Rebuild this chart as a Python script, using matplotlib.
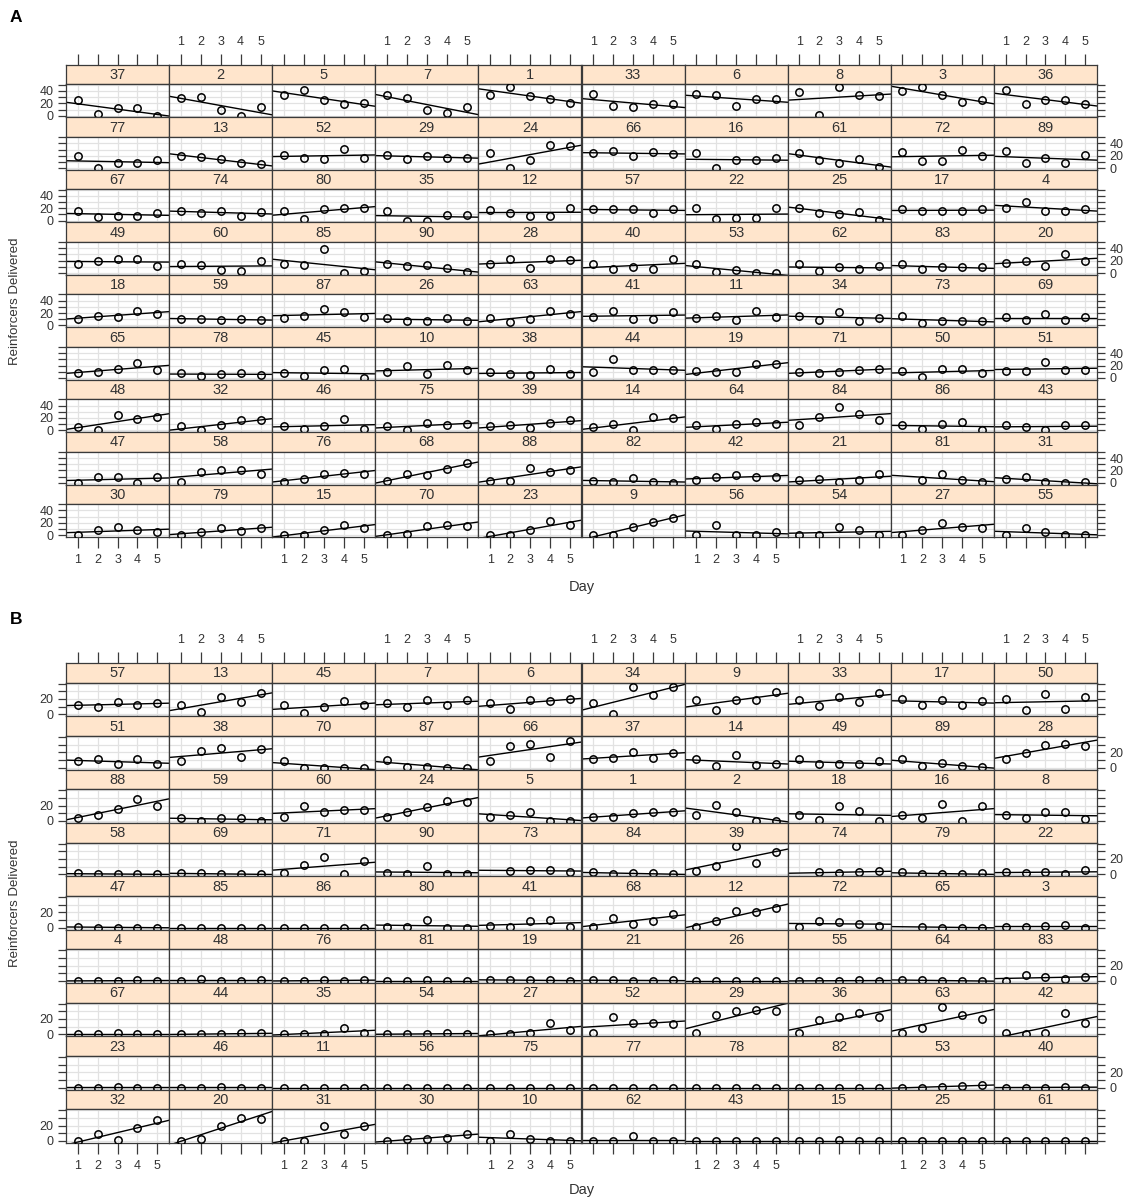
import numpy as np
import matplotlib
matplotlib.use("Agg")
import matplotlib.pyplot as plt

plt.rcParams['font.family'] = ['Liberation Sans', 'DejaVu Sans']

nan = np.nan
DAYS = [1, 2, 3, 4, 5]

# ---------------- Panel A data (subject ids per row, values per subject) -------------
A_R1 = [37, 2, 5, 7, 1, 33, 6, 8, 3, 36]
A_R1_Y = [[26, 3, 12, 12, 0], [28, 30, 10, 0, 14], [33, 41, 25, 19, 20], [34, 28, 9, 5, 14],
          [34, 46, 31, 27, 21], [35, 15, 14, 19, 19], [35, 33, 15, 27, 27], [38, 1, 46, 34, 31],
          [40, 47, 33, 22, 25], [42, 19, 25, 25, 19]]
A_R2 = [77, 13, 52, 29, 24, 66, 16, 61, 72, 89]
A_R2_Y = [[20, 1, 9, 9, 13], [20, 18, 15, 8, 6], [22, 16, 14, 31, 17], [22, 15, 20, 17, 17],
          [24, 0, 13, 37, 35], [24, 28, 19, 26, 23], [25, 0, 13, 13, 17], [24, 13, 9, 15, 2],
          [26, 12, 11, 29, 20], [27, 8, 16, 8, 21]]
A_R3 = [67, 74, 80, 35, 12, 57, 22, 25, 17, 4]
A_R3_Y = [[16, 6, 8, 8, 12], [16, 12, 16, 7, 14], [16, 2, 19, 21, 20], [16, 0, 0, 9, 9],
          [17, 13, 8, 8, 20], [18, 18, 18, 13, 19], [20, 2, 4, 4, 20], [21, 13, 10, 14, 1],
          [18, 15, 16, 16, 18], [20, 30, 16, 16, 18]]
A_R4 = [49, 60, 85, 90, 28, 40, 53, 62, 83, 20]
A_R4_Y = [[14, 20, 23, 22, 12], [14, 13, 5, 3, 20], [14, 13, 38, 0, 4], [15, 12, 13, 8, 1],
          [15, 22, 8, 22, 21], [15, 7, 9, 7, 22], [15, 1, 5, 0, 0], [15, 3, 9, 6, 12],
          [15, 6, 10, 9, 9], [17, 19, 11, 30, 20]]
A_R5 = [18, 59, 87, 26, 63, 41, 11, 34, 73, 69]
A_R5_Y = [[11, 16, 13, 23, 19], [11, 11, 9, 10, 9], [12, 16, 26, 21, 13], [12, 8, 7, 12, 8],
          [12, 6, 10, 24, 19], [13, 23, 11, 11, 21], [12, 15, 9, 23, 13], [15, 9, 22, 8, 12],
          [15, 4, 7, 8, 8], [13, 9, 18, 9, 13]]
A_R6 = [65, 78, 45, 10, 38, 44, 19, 71, 50, 51]
A_R6_Y = [[8, 9, 15, 24, 13], [8, 3, 6, 8, 5], [8, 3, 12, 15, 0], [9, 19, 6, 21, 12],
          [9, 6, 4, 15, 6], [9, 30, 12, 13, 12], [11, 9, 10, 22, 23], [10, 8, 10, 12, 15],
          [11, 1, 15, 15, 8], [11, 11, 26, 13, 12]]
A_R7 = [48, 32, 46, 75, 39, 14, 64, 84, 86, 43]
A_R7_Y = [[6, 1, 24, 18, 22], [7, 0, 8, 16, 17], [7, 2, 7, 19, 2], [7, 1, 12, 9, 11],
          [7, 9, 4, 12, 17], [6, 10, 1, 21, 20], [8, 2, 11, 14, 10], [8, 21, 37, 26, 16],
          [8, 2, 11, 14, 0], [8, 6, 1, 8, 8]]
A_R8 = [47, 58, 76, 68, 88, 82, 42, 21, 81, 31]
A_R8_Y = [[0, 10, 10, 0, 9], [2, 18, 21, 21, 14], [2, 6, 14, 16, 15], [3, 14, 12, 22, 32],
          [3, 3, 24, 17, 20], [3, 1, 7, 2, 0], [4, 10, 12, 9, 10], [4, 6, 2, 4, 14],
          [nan, 4, 15, 4, 1], [6, 9, 1, 0, 1]]
A_R9 = [30, 79, 15, 70, 23, 9, 56, 54, 27, 55]
A_R9_Y = [[0, 8, 13, 9, 5], [0, 6, 11, 7, 11], [0, 0, 8, 17, 11], [0, 2, 15, 17, 15],
          [0, 0, 8, 23, 17], [0, 1, 13, 22, 28], [1, 17, 0, 0, 5], [1, 1, 13, 9, 0],
          [1, 9, 20, 13, 12], [1, 11, 5, 0, 1]]

# ---------------- Panel B data -------------
B_R1 = [57, 13, 45, 7, 6, 34, 9, 33, 17, 50]
B_R1_Y = [[12, 10, 16, 12, 14], [12, 3, 22, 16, 28], [12, 1, 10, 17, 12], [15, 9, 19, 12, 18],
          [15, 7, 18, 17, 20], [15, 0, 35, 25, 35], [18, 6, 19, 19, 29], [18, 11, 23, 16, 28],
          [20, 12, 19, 12, 17], [20, 6, 26, 7, 22]]
B_R2 = [51, 38, 70, 87, 66, 37, 14, 49, 89, 28]
B_R2_Y = [[8, 11, 4, 11, 4], [9, 22, 25, 14, 24], [9, 0, 0, 0, 0], [10, 1, 1, 0, 0],
          [9, 28, 31, 14, 35], [11, 13, 20, 13, 19], [11, 2, 16, 3, 5], [11, 5, 4, 4, 8],
          [11, 2, 6, 2, 1], [11, 19, 30, 31, 28]]
B_R3 = [88, 59, 60, 24, 5, 1, 2, 18, 16, 8]
B_R3_Y = [[4, 7, 16, 28, 20], [4, 0, 4, 4, 0], [5, 20, 11, 14, 14], [5, 12, 18, 26, 24],
          [5, 7, 12, 0, 0], [5, 5, 10, 11, 11], [7, 21, 11, 0, 0], [8, 1, 19, 13, 0],
          [8, 4, 22, 0, 20], [8, 4, 11, 11, 3]]
B_R4 = [58, 69, 71, 90, 73, 84, 39, 74, 79, 22]
B_R4_Y = [[1, 0, 0, 0, 0], [1, 1, 0, 0, 0], [1, 12, 22, 0, 17], [1, 0, 11, 0, 0],
          [nan, 4, 5, 6, 3], [3, 0, 1, 1, 0], [4, 11, 37, 14, 29], [nan, 3, 1, 3, 4],
          [3, 0, 0, 0, 1], [3, 2, 3, 0, 5]]
B_R5 = [47, 85, 86, 80, 41, 68, 12, 72, 65, 3]
B_R5_Y = [[1, 0, 0, 0, 0], [0, 0, 0, 0, 0], [0, 0, 0, 0, 0], [1, 1, 10, 0, 0],
          [2, 1, 9, 10, 1], [1, 12, 5, 8, 18], [1, 8, 21, 20, 25], [1, 9, 7, 5, 2],
          [nan, 1, 0, 0, 0], [1, 1, 2, 3, 0]]
B_R6 = [4, 48, 76, 81, 19, 21, 26, 55, 64, 83]
B_R6_Y = [[0, 0, 0, 1, 0], [0, 2, 0, 0, 1], [0, 0, 1, 0, 1], [0, 0, 1, 0, 0],
          [1, 1, 1, 1, 0], [1, 1, 0, 0, 1], [0, 0, 0, 0, 0], [0, 0, 0, 1, 0],
          [1, 1, 0, 0, 0], [0, 8, 5, 3, 5]]
B_R7 = [67, 44, 35, 54, 27, 52, 29, 36, 63, 42]
B_R7_Y = [[0, 0, 1, 0, 0], [0, 0, 0, 1, 1], [0, 0, 0, 8, 2], [0, 0, 0, 2, 0],
          [0, 0, 1, 14, 5], [1, 22, 15, 14, 13], [1, 25, 30, 32, 30], [1, 19, 22, 27, 23],
          [1, 8, 36, 25, 20], [1, 0, 1, 27, 15]]
B_R8 = [23, 46, 11, 56, 75, 77, 78, 82, 53, 40]
B_R8_Y = [[0, 0, 1, 0, 0], [0, 0, 1, 0, 0], [0, 0, 0, 0, 0], [0, 0, 0, 0, 0],
          [0, 0, 0, 0, 0], [0, 0, 0, 0, 0], [0, 0, 0, 0, 0], [0, 0, 0, 0, 0],
          [0, 0, 1, 2, 3], [0, 0, 0, 1, 0]]
B_R9 = [32, 20, 31, 30, 10, 62, 43, 15, 25, 61]
B_R9_Y = [[0, 9, 1, 17, 27], [0, 3, 20, 30, 29], [0, 0, 19, 9, 19], [0, 2, 3, 4, 9],
          [0, 9, 3, 0, 0], [0, 0, 6, 0, 0], [0, 0, 0, 0, 0], [0, 0, 1, 0, 0],
          [0, 0, 0, 0, 0], [0, 0, 0, 0, 0]]

A_YTICKS = [0, 10, 20, 30, 40, 50]
A_YLABELS = ["0", "", "20", "", "40", ""]
B_YTICKS = [0, 10, 20, 30, 40]
B_YLABELS = ["0", "", "20", "", ""]
X_LABEL = "Day"
Y_LABEL = "Reinforcers Delivered"

# ---------------- layout -------------
W, H = 1129, 1201
fig = plt.figure(figsize=(W / 100, H / 100), dpi=100)

GX0, GX1 = 66, 1097
PW = (GX1 - GX0) / 10.0
SH_FRAC = 0.37
XLIM = (0.415, 5.585)
STRIP = "#FFE5CC"
SPINE = "#3a3a3a"
GRID = "#e2e2e2"
TXT = "#333333"


def rect(x0, y0, w, h):
    return [x0 / W, 1 - (y0 + h) / H, w / W, h / H]


def draw_block(top, bottom, ids_rows, vals_rows, ylim, yticks, ylabels, letter, letter_y, day_y):
    x = np.array(DAYS, dtype=float)
    pitch = (bottom - top) / 9.0
    sh = pitch * SH_FRAC
    for r, (ids, vals) in enumerate(zip(ids_rows, vals_rows)):
        for c, (pid, v) in enumerate(zip(ids, vals)):
            x0 = GX0 + c * PW
            ys = top + r * pitch
            sax = fig.add_axes(rect(x0, ys, PW, sh))
            dax = fig.add_axes(rect(x0, ys + sh, PW, pitch - sh))
            # strip
            sax.set_facecolor(STRIP)
            sax.set_xlim(XLIM)
            sax.set_ylim(0, 1)
            sax.set_yticks([])
            sax.text(0.5, 0.47, str(pid), transform=sax.transAxes, ha="center", va="center",
                     fontsize=10.5, color=TXT)
            sax.set_xticks(DAYS)
            sax.tick_params(axis="x", which="both", bottom=False, labelbottom=False,
                            top=(r == 0), labeltop=(r == 0 and c % 2 == 1),
                            direction="out", length=8, width=0.9, color=SPINE,
                            labelsize=9, labelcolor=TXT, pad=4)
            for sp in sax.spines.values():
                sp.set_color(SPINE)
                sp.set_linewidth(0.9)
            # data panel
            dax.set_xlim(XLIM)
            dax.set_ylim(ylim)
            for d in DAYS:
                dax.axvline(d, color=GRID, lw=0.9, zorder=0)
            for yt in yticks:
                dax.axhline(yt, color=GRID, lw=0.9, zorder=0)
            y = np.array(v, dtype=float)
            m = ~np.isnan(y)
            slope, icpt = np.polyfit(x[m], y[m], 1)
            xs = np.array(XLIM)
            dax.plot(xs, slope * xs + icpt, color="black", lw=1.0, zorder=2)
            dax.plot(x[m], y[m], "o", mfc="none", mec="black", ms=5.3, mew=1.1, zorder=3)
            dax.set_xticks(DAYS)
            dax.set_xticklabels([str(d) for d in DAYS])
            dax.set_yticks(yticks)
            dax.set_yticklabels(ylabels)
            dax.tick_params(axis="x", top=False, labeltop=False,
                            bottom=(r == 8), labelbottom=(r == 8 and c % 2 == 0),
                            direction="out", length=8, width=0.9, color=SPINE,
                            labelsize=9, labelcolor=TXT, pad=4)
            dax.tick_params(axis="y", left=(c == 0), labelleft=(c == 0 and r % 2 == 0),
                            right=(c == 9), labelright=(c == 9 and r % 2 == 1),
                            direction="out", length=6, width=0.9, color=SPINE,
                            labelsize=9, labelcolor=TXT, pad=3)
            for sp in dax.spines.values():
                sp.set_color(SPINE)
                sp.set_linewidth(0.9)
    fig.text(15 / W, 1 - ((top + bottom) / 2) / H, Y_LABEL, rotation=90, ha="center",
             va="center", fontsize=9.5, color=TXT)
    fig.text(((GX0 + GX1) / 2) / W, 1 - day_y / H, X_LABEL, ha="center", va="center",
             fontsize=10.5, color=TXT)
    fig.text(10 / W, 1 - letter_y / H, letter, ha="left", va="center", fontsize=12.5,
             fontweight="bold", color="black")


A_IDS = [A_R1, A_R2, A_R3, A_R4, A_R5, A_R6, A_R7, A_R8, A_R9]
A_VALS = [A_R1_Y, A_R2_Y, A_R3_Y, A_R4_Y, A_R5_Y, A_R6_Y, A_R7_Y, A_R8_Y, A_R9_Y]
B_IDS = [B_R1, B_R2, B_R3, B_R4, B_R5, B_R6, B_R7, B_R8, B_R9]
B_VALS = [B_R1_Y, B_R2_Y, B_R3_Y, B_R4_Y, B_R5_Y, B_R6_Y, B_R7_Y, B_R8_Y, B_R9_Y]

draw_block(65, 537, A_IDS, A_VALS, (-2.8, 50.5), A_YTICKS, A_YLABELS, "A", 17, 587)
draw_block(663, 1143, B_IDS, B_VALS, (-2.8, 41.0), B_YTICKS, B_YLABELS, "B", 620, 1190)

fig.savefig("out.png", dpi=100, facecolor="white")
